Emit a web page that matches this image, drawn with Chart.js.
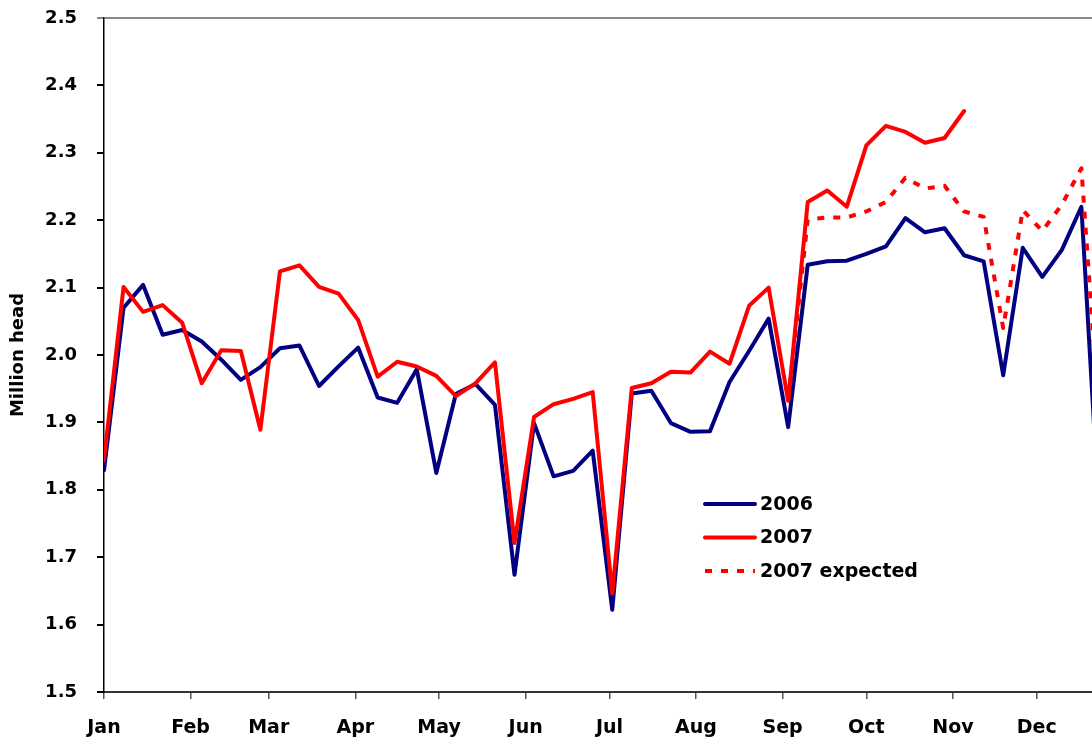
<!DOCTYPE html>
<html>
  <head>
    <script src="https://cdn.jsdelivr.net/npm/chart.js"></script>
    <style>
      body { margin: 0; background: #ffffff; overflow: hidden; }
    </style>
  </head>

  <body>
    <canvas id="slaughter" width="1092" height="740"></canvas>
  </body>

  <script>
    // month tick labels, placed at the first day of each month
    var monthNames = ["Jan", "Feb", "Mar", "Apr", "May", "Jun", "Jul", "Aug", "Sep", "Oct", "Nov", "Dec"];
    var monthStartDays = [0, 31, 59, 90, 120, 151, 181, 212, 243, 273, 304, 334];
    var daysPerWeek = 7;

    // weekly values, million head (week 0 = first week of Jan)
    var values2006 = [
      1.829, 2.070, 2.104, 2.030, 2.037, 2.020, 1.993, 1.963, 1.982, 2.010,
      2.014, 1.954, 1.983, 2.011, 1.937, 1.929, 1.979, 1.825, 1.942, 1.957,
      1.926, 1.674, 1.899, 1.820, 1.828, 1.858, 1.622, 1.943, 1.947, 1.899,
      1.886, 1.887, 1.960, 2.006, 2.054, 1.893, 2.134, 2.139, 2.140, 2.150,
      2.161, 2.203, 2.182, 2.188, 2.148, 2.139, 1.970, 2.159, 2.116, 2.156,
      2.220, 1.719,
    ];
    var values2007 = [
      1.844, 2.101, 2.064, 2.074, 2.048, 1.958, 2.007, 2.006, 1.889, 2.124,
      2.133, 2.101, 2.091, 2.052, 1.968, 1.990, 1.983, 1.969, 1.939, 1.958,
      1.989, 1.721, 1.908, 1.927, 1.935, 1.945, 1.646, 1.951, 1.958, 1.975,
      1.974, 2.005, 1.987, 2.073, 2.100, 1.932, 2.227, 2.244, 2.220, 2.311,
      2.340, 2.331, 2.315, 2.322, 2.362,
    ];
    // expected 2007 continues from week 35
    var expectedStartWeek = 35;
    var values2007Expected = [
      1.932, 2.201, 2.204, 2.204, 2.213, 2.227, 2.263, 2.247, 2.251, 2.213,
      2.205, 2.040, 2.215, 2.184, 2.223, 2.277, 1.865,
    ];

    var yMin = 1.5;
    var yMax = 2.5;
    var yStep = 0.1;
    var xMaxDay = 353.8;

    function toPoints(vals, startWeek) {
      return vals.map(function (v, i) {
        return { x: (startWeek + i) * daysPerWeek, y: v };
      });
    }

    var fontFamily = "DejaVu Sans";

    // legend drawn inside the plot, below the curves
    var insideLegend = {
      id: "insideLegend",
      afterDraw: function (chart) {
        var ctx = chart.ctx;
        var x0 = 705, x1 = 755, rowY = 504, rowGap = 33.5;
        ctx.save();
        chart.data.datasets.forEach(function (ds, i) {
          var y = rowY + i * rowGap;
          ctx.beginPath();
          ctx.strokeStyle = ds.borderColor;
          ctx.lineWidth = ds.borderWidth;
          ctx.lineCap = ds.borderDash ? "butt" : "round";
          ctx.setLineDash(ds.borderDash || []);
          ctx.moveTo(x0, y);
          ctx.lineTo(x1, y);
          ctx.stroke();
          ctx.setLineDash([]);
          ctx.fillStyle = "#000000";
          ctx.font = "bold 19px '" + fontFamily + "'";
          ctx.textBaseline = "middle";
          ctx.textAlign = "left";
          ctx.fillText(ds.label, x1 + 5, y + 1);
        });
        ctx.restore();
      },
    };

    function isTop(v) {
      return Math.abs(v - yMax) < 1e-6;
    }

    var ctx = document.getElementById("slaughter").getContext("2d");

    var chart = new Chart(ctx, {
      type: "line",
      data: {
        datasets: [
          {
            label: "2006",
            data: toPoints(values2006, 0),
            borderColor: "#000080",
            borderWidth: 4,
            order: 2,
          },
          {
            label: "2007",
            data: toPoints(values2007, 0),
            borderColor: "#ff0000",
            borderWidth: 4,
            order: 0,
          },
          {
            label: "2007 expected",
            data: toPoints(values2007Expected, expectedStartWeek),
            borderColor: "#ff0000",
            borderWidth: 4,
            borderDash: [7, 9],
            borderCapStyle: "butt",
            order: 1,
          },
        ],
      },
      options: {
        responsive: false,
        animation: false,
        devicePixelRatio: 1,
        layout: { padding: { top: 18, right: 0, left: 0, bottom: 0 } },
        elements: {
          point: { radius: 0, hoverRadius: 0 },
          line: { tension: 0, borderJoinStyle: "round", borderCapStyle: "round", fill: false },
        },
        scales: {
          x: {
            type: "linear",
            min: 0,
            max: xMaxDay,
            afterBuildTicks: function (scale) {
              scale.ticks = monthStartDays.map(function (d) {
                return { value: d };
              });
            },
            afterFit: function (scale) {
              scale.height = 48;
            },
            ticks: {
              autoSkip: false,
              maxRotation: 0,
              padding: 18,
              color: "#000000",
              font: { family: fontFamily, size: 19, weight: "bold" },
              callback: function (value) {
                return monthNames[monthStartDays.indexOf(value)];
              },
            },
            grid: {
              drawOnChartArea: false,
              tickLength: 7,
              color: "#555555",
              lineWidth: 1.5,
            },
            border: { color: "#333333", width: 2 },
          },
          y: {
            min: yMin,
            max: yMax,
            afterFit: function (scale) {
              scale.width = 104;
              scale.paddingTop = 0;
              scale.paddingBottom = 0;
            },
            ticks: {
              stepSize: yStep,
              padding: 20,
              color: "#000000",
              font: { family: fontFamily, size: 18, weight: "bold" },
              callback: function (value) {
                return value.toFixed(1);
              },
            },
            grid: {
              tickLength: 7,
              lineWidth: 2,
              color: function (c) {
                return isTop(c.tick.value) ? "#888888" : "rgba(0,0,0,0)";
              },
              tickColor: function (c) {
                return isTop(c.tick.value) ? "#888888" : "#000000";
              },
            },
            border: { color: "#000000", width: 1.5 },
            title: {
              display: true,
              text: "Million head",
              color: "#000000",
              padding: { top: 8, bottom: 0 },
              font: { family: fontFamily, size: 18, weight: "bold" },
            },
          },
        },
        plugins: {
          legend: { display: false },
          tooltip: { enabled: false },
        },
      },
      plugins: [insideLegend],
    });
  </script>
</html>
